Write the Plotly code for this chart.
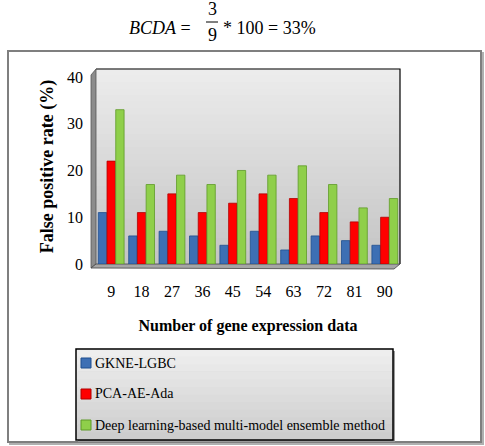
import plotly.graph_objects as go

categories = ["9", "18", "27", "36", "45", "54", "63", "72", "81", "90"]
gkne_lgbc = [11, 6, 7, 6, 4, 7, 3, 6, 5, 4]
pca_ae_ada = [22, 11, 15, 11, 13, 15, 14, 11, 9, 10]
deep_ensemble = [33, 17, 19, 17, 20, 19, 21, 17, 12, 14]
series_names = ["GKNE-LGBC", "PCA-AE-Ada", "Deep learning-based multi-model ensemble method"]
series_colors = ["#3d6fb4", "#ff0000", "#8fcf4a"]
line_colors = ["#1f4f8f", "#b00000", "#5f9a28"]
y_ticks = [0, 10, 20, 30, 40]

FONT = "'Liberation Serif', 'Times New Roman', Tinos, serif"

fig = go.Figure()
for i, (name, vals) in enumerate(zip(series_names, [gkne_lgbc, pca_ae_ada, deep_ensemble])):
    fig.add_trace(go.Bar(
        x=categories, y=vals, name=name, showlegend=False,
        marker=dict(color=series_colors[i], line=dict(color=line_colors[i], width=0.8)),
    ))

# plot-area geometry (pixels)
W, H = 485, 446
L, R, T, B = 96, 400, 69, 264

def px2x(px):
    return (px - L) / (R - L)

def py2y(py):
    return (B - py) / (B - T)

shapes = []
# outer chart frame with shadow
shapes.append(dict(type="rect", xref="paper", yref="paper",
                   x0=px2x(10), x1=px2x(483), y0=py2y(444), y1=py2y(53),
                   line=dict(color="#b0b0b0", width=2), fillcolor="rgba(0,0,0,0)", layer="below"))
shapes.append(dict(type="rect", xref="paper", yref="paper",
                   x0=px2x(8), x1=px2x(481), y0=py2y(442), y1=py2y(51),
                   line=dict(color="#7f7f7f", width=2), fillcolor="white", layer="below"))
# gradient back wall
n = 30
top_c = (236, 236, 236)
bot_c = (196, 196, 196)
for k in range(n):
    f = k / (n - 1)
    c = tuple(int(round(bot_c[j] + (top_c[j] - bot_c[j]) * f)) for j in range(3))
    shapes.append(dict(type="rect", xref="paper", yref="paper",
                       x0=0, x1=1, y0=k / n, y1=(k + 1) / n + 0.002,
                       line=dict(width=0), fillcolor=f"rgb{c}", layer="below"))
shapes.append(dict(type="path", xref="paper", yref="paper",
                   path="M 0 1 L 1 1 L 1 0",
                   line=dict(color="black", width=1.2), layer="below"))
# left 3D side wall
shapes.append(dict(type="path", xref="paper", yref="paper",
                   path=f"M {px2x(91)} {py2y(268)} L {px2x(91)} {py2y(75)} L 0 1 L 0 0 Z",
                   line=dict(color="#555555", width=0.8), fillcolor="#8c8c8c", layer="below"))
# floor
shapes.append(dict(type="path", xref="paper", yref="paper",
                   path=f"M {px2x(91)} {py2y(268)} L 0 0 L 1 0 L {px2x(394)} {py2y(269)} Z",
                   line=dict(color="#444444", width=0.8), fillcolor="#a6a6a6", layer="below"))

ann = []
# formula above the chart
fsz = 18
ann.append(dict(xref="paper", yref="paper", x=px2x(197), y=py2y(28), xanchor="right", yanchor="middle",
                text="<i>BCDA</i> = ", showarrow=False, font=dict(family=FONT, size=fsz, color="black")))
ann.append(dict(xref="paper", yref="paper", x=px2x(212), y=py2y(9), xanchor="center", yanchor="middle",
                text="3", showarrow=False, font=dict(family=FONT, size=fsz, color="black")))
ann.append(dict(xref="paper", yref="paper", x=px2x(212), y=py2y(35), xanchor="center", yanchor="middle",
                text="9", showarrow=False, font=dict(family=FONT, size=fsz, color="black")))
shapes.append(dict(type="line", xref="paper", yref="paper", x0=px2x(206), x1=px2x(218),
                   y0=py2y(22), y1=py2y(22), line=dict(color="black", width=1)))
ann.append(dict(xref="paper", yref="paper", x=px2x(221), y=py2y(28), xanchor="left", yanchor="middle",
                text="* 100 = 33%", showarrow=False, font=dict(family=FONT, size=fsz, color="black")))

# custom legend box
shapes.append(dict(type="rect", xref="paper", yref="paper",
                   x0=px2x(78), x1=px2x(395), y0=py2y(442), y1=py2y(351),
                   line=dict(width=0), fillcolor="#9a9a9a"))
n2 = 12
for k in range(n2):
    f = k / (n2 - 1)
    v = int(round(205 + (238 - 205) * f))
    y0 = 440 - (440 - 349) * k / n2
    y1 = 440 - (440 - 349) * (k + 1) / n2
    shapes.append(dict(type="rect", xref="paper", yref="paper",
                       x0=px2x(76), x1=px2x(393), y0=py2y(y0), y1=py2y(y1) + 0.003,
                       line=dict(width=0), fillcolor=f"rgb({v},{v},{v})"))
shapes.append(dict(type="rect", xref="paper", yref="paper",
                   x0=px2x(76), x1=px2x(393), y0=py2y(440), y1=py2y(349),
                   line=dict(color="black", width=1.5), fillcolor="rgba(0,0,0,0)"))
row_y = [363, 394, 425]
for i, name in enumerate(series_names):
    shapes.append(dict(type="rect", xref="paper", yref="paper",
                       x0=px2x(81), x1=px2x(91), y0=py2y(row_y[i] + 5), y1=py2y(row_y[i] - 5),
                       line=dict(color=line_colors[i], width=1), fillcolor=series_colors[i]))
    ann.append(dict(xref="paper", yref="paper", x=px2x(93), y=py2y(row_y[i]),
                    xanchor="left", yanchor="middle", text=name, showarrow=False,
                    font=dict(family=FONT, size=14, color="black")))

fig.update_layout(
    width=W, height=H,
    margin=dict(l=L, r=W - R, t=T, b=H - B, autoexpand=False),
    paper_bgcolor="white",
    plot_bgcolor="rgba(0,0,0,0)",
    barmode="group", bargap=0.14, bargroupgap=0.04,
    shapes=shapes, annotations=ann,
    showlegend=False,
    xaxis=dict(
        type="category", range=[-0.5, 9.5], showgrid=False, showline=False, zeroline=False,
        ticks="", ticklabelstandoff=16,
        tickfont=dict(family=FONT, size=16, color="black"),
        title=dict(text="<b>Number of gene expression data</b>", standoff=20,
                   font=dict(family=FONT, size=16, color="black")),
    ),
    yaxis=dict(
        range=[0, 41.7], tickvals=y_ticks, showgrid=False, showline=False, zeroline=False,
        ticks="", ticklabelstandoff=12,
        tickfont=dict(family=FONT, size=16, color="black"),
        title=dict(text="<b>False positive rate (%)</b>", standoff=8,
                   font=dict(family=FONT, size=18, color="black")),
    ),
)

fig.write_html("out.html")
